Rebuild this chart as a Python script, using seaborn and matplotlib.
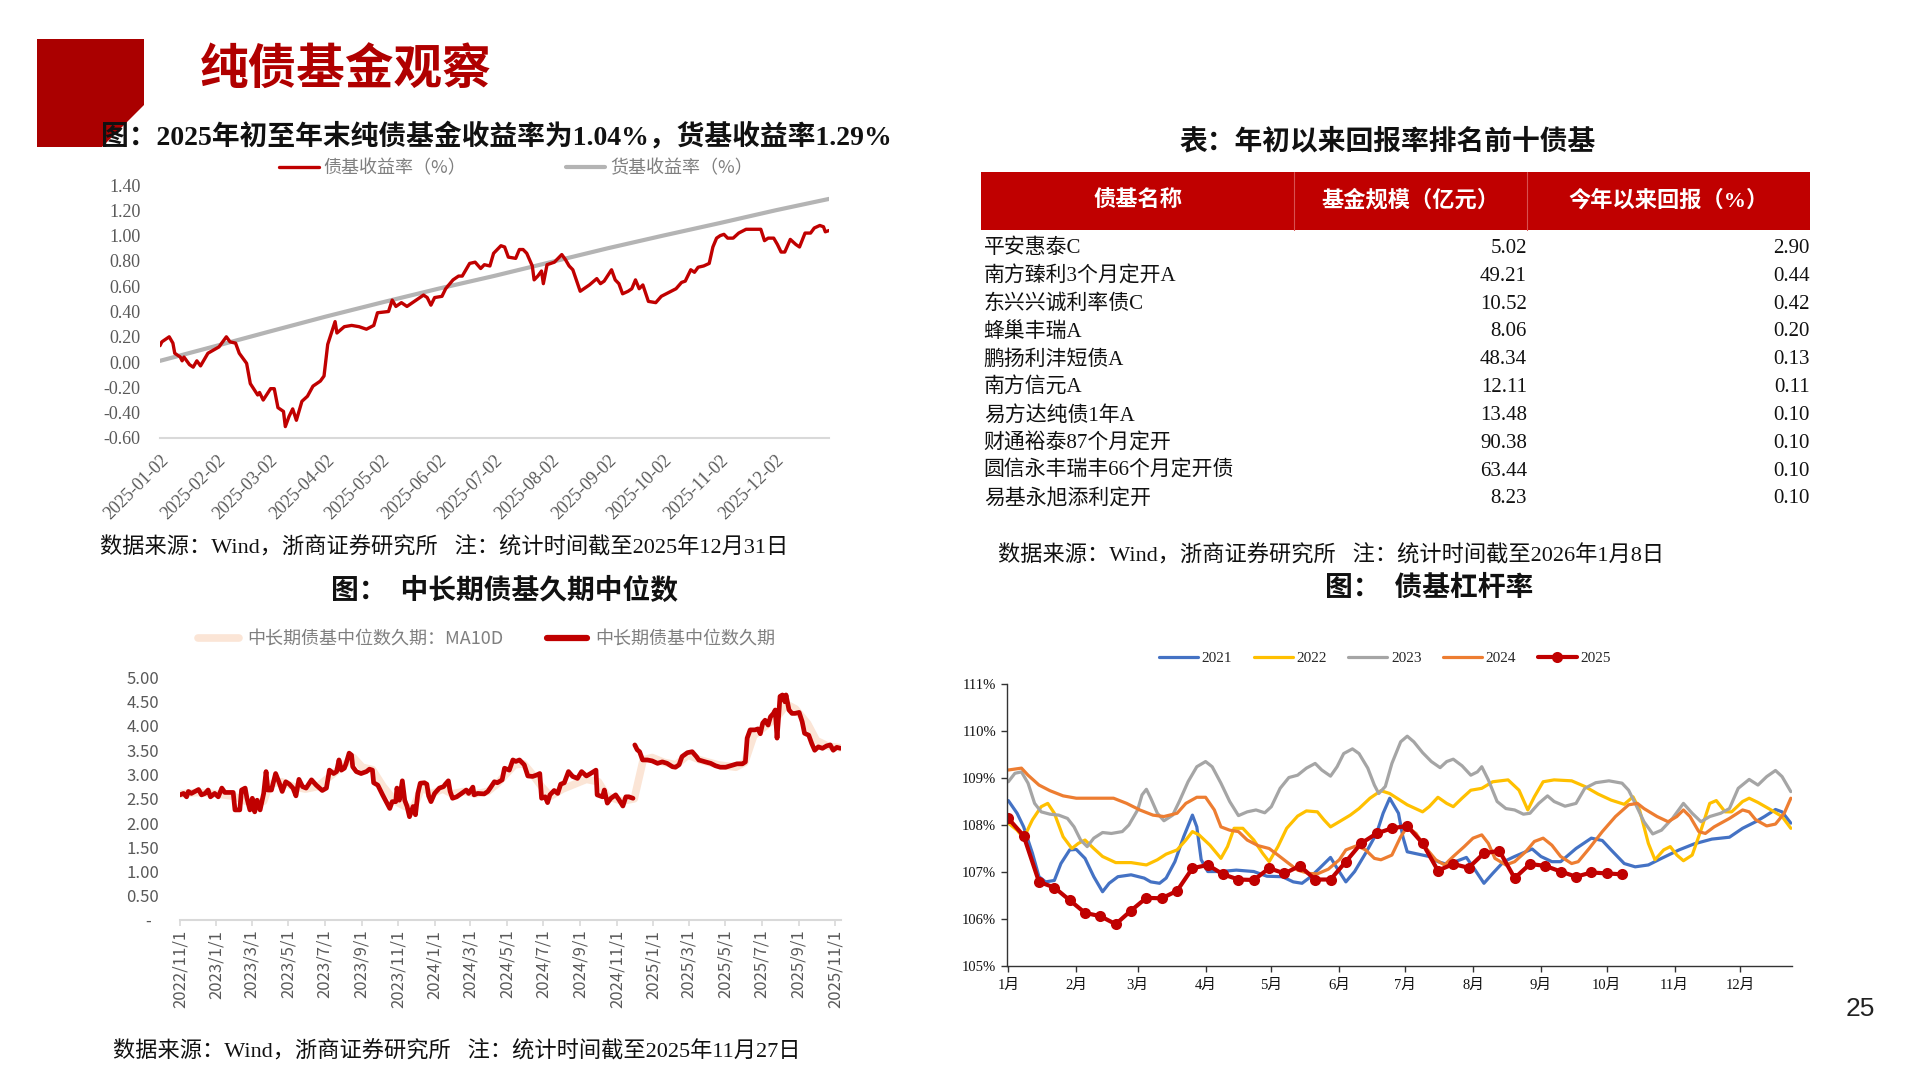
import numpy as np
import pandas as pd
import matplotlib
matplotlib.use('Agg')
import matplotlib.pyplot as plt
from matplotlib.patches import Polygon, Rectangle
from matplotlib.lines import Line2D
from matplotlib.ticker import FuncFormatter
import seaborn as sns

sns.set_theme(style='white')
SERIF = ['Liberation Serif', 'Noto Sans CJK SC']
SANS = ['Noto Sans CJK SC', 'DejaVu Sans']
plt.rcParams['font.family'] = SERIF
plt.rcParams['axes.unicode_minus'] = False

# ---------------- data: top-left (2025 YTD returns, %) ----------------
bond_doy = [2, 3, 6, 7, 9, 10, 13, 14, 15, 18, 20, 22, 24, 28, 34, 38, 40, 43, 45, 49,
            51, 55, 56, 58, 62, 64, 66, 69, 70, 72, 74, 76, 79, 82, 85, 89, 91, 93, 95, 97,
            98, 102, 106, 110, 114, 118, 120, 126, 128, 130, 133, 136, 140, 143, 145, 147, 149, 151, 155, 157,
            161, 164, 166, 170, 173, 176, 178, 181, 183, 187, 189, 191, 195, 197, 199, 201, 204, 205, 207, 209,
            210, 212, 216, 220, 222, 224, 226, 230, 232, 235, 239, 241, 243, 247, 249, 251, 253, 256, 258, 260,
            262, 264, 267, 271, 274, 278, 282, 285, 287, 290, 292, 294, 297, 300, 302, 304, 306, 308, 310, 313,
            316, 320, 323, 325, 328, 330, 332, 335, 337, 339, 341, 344, 347, 349, 352, 355, 357, 360, 362, 363, 365]
bond_ret = [0.13, 0.16, 0.19, 0.20, 0.15, 0.07, 0.04, 0.01, 0.04, -0.02, -0.04, 0.01, -0.03, 0.07, 0.12, 0.20, 0.16, 0.15, 0.07, -0.01,
            -0.17, -0.26, -0.24, -0.30, -0.21, -0.21, -0.36, -0.39, -0.51, -0.43, -0.37, -0.46, -0.31, -0.27, -0.19, -0.15, -0.11, 0.14, 0.23, 0.32,
            0.23, 0.28, 0.29, 0.28, 0.26, 0.29, 0.39, 0.40, 0.49, 0.44, 0.47, 0.44, 0.48, 0.51, 0.53, 0.51, 0.45, 0.51, 0.52, 0.58,
            0.65, 0.68, 0.68, 0.78, 0.79, 0.74, 0.77, 0.76, 0.86, 0.92, 0.91, 0.83, 0.82, 0.89, 0.89, 0.86, 0.76, 0.65, 0.68, 0.72,
            0.62, 0.77, 0.79, 0.85, 0.81, 0.76, 0.73, 0.56, 0.58, 0.61, 0.66, 0.62, 0.64, 0.73, 0.65, 0.62, 0.54, 0.56, 0.58, 0.65,
            0.58, 0.61, 0.48, 0.47, 0.52, 0.55, 0.58, 0.63, 0.64, 0.73, 0.71, 0.75, 0.76, 0.78, 0.91, 0.98, 1.00, 1.01, 0.98, 0.98,
            1.02, 1.05, 1.05, 1.05, 1.05, 0.96, 0.98, 0.98, 0.93, 0.87, 0.87, 0.97, 0.93, 0.91, 1.02, 1.02, 1.06, 1.08, 1.07, 1.03, 1.04]
money_doy = [2, 33, 61, 92, 122, 153, 183, 214, 245, 275, 306, 336, 365]
money_ret = [0.01, 0.13, 0.24, 0.36, 0.47, 0.58, 0.68, 0.79, 0.90, 1.00, 1.10, 1.20, 1.29]
tl_tick_dates = ['2025-01-02', '2025-02-02', '2025-03-02', '2025-04-02', '2025-05-02', '2025-06-02',
                 '2025-07-02', '2025-08-02', '2025-09-02', '2025-10-02', '2025-11-02', '2025-12-02']

# ---------------- data: table ----------------
fund_names = ['平安惠泰C', '南方臻利3个月定开A', '东兴兴诚利率债C', '蜂巢丰瑞A', '鹏扬利沣短债A',
              '南方信元A', '易方达纯债1年A', '财通裕泰87个月定开', '圆信永丰瑞丰66个月定开债', '易基永旭添利定开']
fund_size = [5.02, 49.21, 10.52, 8.06, 48.34, 12.11, 13.48, 90.38, 63.44, 8.23]
fund_ret = [2.90, 0.44, 0.42, 0.20, 0.13, 0.11, 0.10, 0.10, 0.10, 0.10]
table_header = ['债基名称', '基金规模（亿元）', '今年以来回报（%）']

# ---------------- data: bottom-left (duration median, days since 2022-11-01) ----------------
dur_day = [0, 6, 11, 14, 19, 25, 31, 36, 42, 47, 51, 58, 64, 70, 75, 81, 89, 92, 100, 103,
           109, 112, 117, 121, 125, 129, 134, 140, 144, 147, 153, 160, 166, 171, 177, 183, 189, 194, 199, 205,
           211, 220, 228, 238, 245, 250, 257, 262, 266, 270, 275, 278, 283, 287, 289, 295, 303, 312, 317, 322,
           324, 331, 339, 351, 355, 361, 363, 367, 372, 376, 380, 384, 390, 394, 398, 402, 409, 413, 416, 420,
           426, 434, 441, 444, 449, 452, 456, 463, 470, 479, 483, 490, 492, 498, 509, 515, 519, 526, 531, 539,
           543, 551, 557, 562, 568, 576, 582, 590, 597, 602, 605, 611, 615, 619, 626, 632, 637, 643, 650, 657,
           665, 672, 680, 687, 696, 698, 707, 710, 715, 721, 729, 735, 741, 746, 751, 758,
           761, 765, 769, 774, 782, 790, 799, 807, 815, 824, 829, 835, 840, 849, 857, 864, 868, 879, 888, 896,
           904, 913, 921, 932, 941, 946, 949, 954, 962, 967, 971, 975, 979, 984, 988, 993, 996, 999, 1002, 1004,
           1008, 1012, 1014, 1019, 1024, 1029, 1036, 1041, 1045, 1052, 1057, 1062, 1068, 1075, 1082, 1088, 1093, 1099, 1105]
dur_val = [2.58, 2.61, 2.54, 2.65, 2.61, 2.65, 2.69, 2.58, 2.61, 2.68, 2.54, 2.61, 2.54, 2.72, 2.63, 2.63, 2.63, 2.27, 2.27, 2.68,
           2.72, 2.51, 2.27, 2.51, 2.23, 2.47, 2.27, 2.61, 3.06, 2.68, 2.68, 3.02, 2.83, 2.65, 2.85, 2.80, 2.72, 2.56, 2.90, 2.75,
           2.72, 2.89, 2.78, 2.67, 2.72, 3.09, 3.02, 3.06, 3.30, 3.09, 3.13, 3.23, 3.44, 3.40, 3.16, 3.06, 3.02, 3.06, 3.11, 3.09,
           2.83, 2.78, 2.58, 2.30, 2.44, 2.44, 2.72, 2.47, 2.87, 2.47, 2.34, 2.13, 2.34, 2.17, 2.61, 2.82, 2.83, 2.80, 2.56, 2.44,
           2.61, 2.72, 2.75, 2.80, 2.87, 2.65, 2.51, 2.54, 2.60, 2.68, 2.61, 2.74, 2.58, 2.61, 2.60, 2.65, 2.72, 2.85, 2.83, 2.89,
           3.13, 3.09, 3.30, 3.27, 3.30, 3.20, 2.97, 2.96, 2.99, 3.02, 2.51, 2.54, 2.42, 2.58, 2.67, 2.61, 2.80, 2.83, 3.06, 2.96,
           2.92, 3.06, 2.97, 3.02, 3.09, 2.58, 2.54, 2.68, 2.41, 2.51, 2.58, 2.47, 2.35, 2.54, 2.54, 2.51,
           3.61, 3.51, 3.47, 3.30, 3.30, 3.28, 3.23, 3.26, 3.23, 3.16, 3.15, 3.20, 3.37, 3.45, 3.47, 3.37, 3.30, 3.26, 3.23, 3.18,
           3.15, 3.15, 3.18, 3.22, 3.22, 3.26, 3.75, 3.92, 3.92, 3.94, 3.84, 4.06, 4.12, 4.02, 4.19, 4.26, 4.33, 3.75, 4.26, 4.61,
           4.64, 4.50, 4.64, 4.33, 4.26, 4.26, 4.28, 4.09, 3.85, 3.81, 3.64, 3.50, 3.57, 3.54, 3.59, 3.61, 3.50, 3.56, 3.54]
dur_gap_after = 758   # no data between this day and the next point
ma_day = [0, 30, 60, 90, 110, 125, 140, 150, 170, 190, 210, 230, 250, 270, 290, 305, 322, 340, 360, 375,
          390, 405, 420, 440, 455, 475, 495, 515, 530, 545, 560, 575, 590, 605, 620, 640, 660, 680, 700, 715,
          740, 760, 775, 790, 810, 830, 850, 870, 900, 930, 945, 960, 980, 1000, 1015, 1030, 1050, 1065, 1085, 1105]
ma_val = [2.60, 2.63, 2.60, 2.55, 2.45, 2.40, 2.45, 2.80, 2.85, 2.75, 2.70, 2.75, 2.95, 3.15, 3.35, 3.15, 3.10, 2.75, 2.45, 2.35,
          2.30, 2.75, 2.60, 2.70, 2.60, 2.65, 2.60, 2.65, 2.80, 3.00, 3.20, 3.22, 3.00, 2.75, 2.55, 2.70, 2.80, 2.90, 2.85, 2.55,
          2.45, 2.50, 3.30, 3.35, 3.25, 3.20, 3.40, 3.30, 3.20, 3.15, 3.25, 3.80, 4.00, 4.20, 4.45, 4.35, 4.05, 3.70, 3.58, 3.55]

# ---------------- data: bottom-right (leverage %, by day of year) ----------------
lev_2021_doy = [1, 5, 8, 12, 15, 18, 22, 25, 29, 32, 36, 40, 44, 47, 51, 57, 63, 66, 70, 73,
                77, 81, 85, 87, 89, 92, 98, 105, 113, 119, 126, 131, 135, 139, 143, 148, 151, 155, 159, 164,
                169, 172, 175, 179, 181, 183, 188, 193, 197, 202, 206, 210, 214, 218, 222, 227, 232, 240, 244, 249,
                253, 260, 267, 272, 276, 282, 287, 293, 299, 307, 314, 322, 330, 336, 342, 346, 351, 354, 358]
lev_2021 = [108.52, 108.25, 107.96, 107.40, 106.90, 106.79, 106.82, 107.18, 107.47, 107.48, 107.29, 106.90, 106.58, 106.76, 106.90, 106.94, 106.87, 106.79, 106.76, 106.87,
            107.22, 107.75, 108.21, 107.96, 107.26, 107.01, 107.01, 107.04, 107.01, 106.91, 106.90, 106.79, 106.76, 106.90, 107.08, 107.31, 107.08, 106.79, 107.01, 107.40,
            107.82, 108.25, 108.57, 108.25, 107.75, 107.43, 107.38, 107.33, 107.22, 107.15, 107.24, 107.31, 107.04, 106.76, 106.97, 107.22, 107.33, 107.49, 107.33, 107.22,
            107.22, 107.50, 107.72, 107.67, 107.47, 107.18, 107.11, 107.15, 107.29, 107.47, 107.60, 107.70, 107.74, 107.93, 108.07, 108.18, 108.33, 108.28, 108.04]
lev_2022_doy = [1, 5, 8, 12, 16, 19, 22, 26, 30, 33, 36, 40, 44, 50, 57, 64, 69, 73, 78, 82,
                85, 88, 93, 98, 101, 104, 108, 113, 117, 120, 124, 128, 133, 137, 142, 145, 148, 152, 157, 161,
                166, 171, 175, 183, 190, 193, 197, 201, 204, 208, 212, 217, 222, 229, 234, 238, 241, 245, 250, 258,
                264, 270, 276, 282, 286, 289, 293, 296, 300, 303, 306, 309, 313, 317, 321, 324, 328, 331, 336, 339,
                343, 349, 354, 358]
lev_2022 = [108.04, 107.89, 107.72, 108.11, 108.39, 108.46, 108.25, 107.75, 107.50, 107.61, 107.68, 107.50, 107.33, 107.20, 107.20, 107.15, 107.26, 107.38, 107.47, 107.68,
            107.86, 107.79, 107.57, 107.29, 107.54, 107.93, 107.93, 107.68, 107.40, 107.22, 107.54, 107.93, 108.19, 108.30, 108.28, 108.11, 107.96, 108.07, 108.21, 108.35,
            108.57, 108.73, 108.67, 108.43, 108.28, 108.39, 108.59, 108.46, 108.39, 108.57, 108.74, 108.78, 108.92, 108.96, 108.74, 108.32, 108.60, 108.92, 108.96, 108.94,
            108.82, 108.66, 108.53, 108.44, 108.60, 108.32, 107.61, 107.26, 107.47, 107.54, 107.36, 107.24, 107.36, 107.89, 108.46, 108.52, 108.28, 108.28, 108.50, 108.57,
            108.48, 108.32, 108.18, 107.93]
lev_2023_doy = [1, 4, 7, 10, 13, 16, 20, 24, 28, 31, 34, 37, 40, 44, 48, 53, 56, 60, 62, 64,
                66, 69, 72, 76, 79, 83, 87, 91, 94, 98, 102, 106, 110, 114, 118, 121, 125, 129, 133, 137,
                141, 144, 148, 151, 154, 158, 161, 165, 168, 170, 173, 176, 180, 183, 186, 190, 194, 198, 201, 204,
                208, 212, 215, 217, 220, 224, 228, 232, 236, 239, 243, 247, 250, 255, 260, 264, 269, 275, 281, 284,
                287, 291, 295, 299, 304, 309, 313, 317, 321, 326, 330, 334, 339, 343, 347, 351, 354, 358]
lev_2023 = [108.92, 109.10, 109.13, 108.89, 108.46, 108.28, 108.23, 108.21, 108.14, 107.96, 107.68, 107.54, 107.72, 107.84, 107.82, 107.86, 108.00, 108.32, 108.64, 108.76,
            108.57, 108.25, 108.09, 108.21, 108.50, 108.92, 109.24, 109.35, 109.24, 108.89, 108.50, 108.20, 108.28, 108.32, 108.26, 108.39, 108.78, 109.01, 109.06, 109.21,
            109.31, 109.17, 109.04, 109.24, 109.52, 109.62, 109.52, 109.21, 108.85, 108.67, 108.82, 109.31, 109.77, 109.89, 109.77, 109.54, 109.35, 109.22, 109.35, 109.40,
            109.26, 109.06, 109.13, 109.24, 108.96, 108.50, 108.35, 108.32, 108.23, 108.25, 108.46, 108.62, 108.50, 108.40, 108.46, 108.78, 108.90, 108.94, 108.89, 108.74,
            108.46, 108.07, 107.81, 107.89, 108.14, 108.46, 108.25, 108.07, 108.18, 108.25, 108.35, 108.78, 108.97, 108.85, 109.03, 109.16, 109.03, 108.71]
lev_2024_doy = [1, 4, 7, 10, 15, 20, 26, 32, 40, 49, 55, 61, 67, 72, 78, 82, 87, 91, 95, 98,
                102, 106, 110, 115, 120, 124, 129, 133, 138, 142, 147, 152, 155, 160, 164, 168, 171, 176, 180, 183,
                187, 191, 196, 200, 204, 209, 213, 217, 220, 223, 228, 232, 237, 241, 245, 249, 253, 258, 261, 266,
                272, 278, 284, 288, 291, 297, 302, 306, 309, 312, 316, 319, 323, 330, 336, 339, 342, 347, 351, 355, 358]
lev_2024 = [109.17, 109.19, 109.21, 109.06, 108.85, 108.73, 108.62, 108.57, 108.57, 108.57, 108.46, 108.32, 108.21, 108.18, 108.25, 108.46, 108.59, 108.59, 108.32, 107.96,
            107.89, 107.86, 107.68, 107.56, 107.50, 107.36, 107.18, 107.04, 106.97, 106.96, 107.06, 107.26, 107.47, 107.56, 107.47, 107.29, 107.26, 107.36, 107.75, 107.96,
            107.82, 107.54, 107.26, 107.15, 107.33, 107.54, 107.72, 107.79, 107.61, 107.29, 107.15, 107.22, 107.43, 107.65, 107.72, 107.57, 107.33, 107.18, 107.22, 107.50,
            107.86, 108.18, 108.43, 108.46, 108.35, 108.18, 108.07, 108.18, 108.32, 108.18, 107.86, 107.82, 107.96, 108.14, 108.32, 108.28, 108.11, 107.98, 108.02, 108.25, 108.57]
lev_2025_doy = [1, 8, 15, 22, 29, 36, 43, 50, 57, 64, 71, 78, 85, 92, 99, 106, 113, 120, 127, 134,
                141, 148, 155, 162, 169, 176, 183, 190, 197, 204, 211, 218, 225, 232, 239, 246, 253, 260, 267, 274, 281]
lev_2025 = [108.14, 107.77, 106.79, 106.67, 106.40, 106.13, 106.06, 105.89, 106.18, 106.45, 106.44, 106.60, 107.08, 107.15, 106.95, 106.84, 106.83, 107.08, 106.97, 107.13,
            106.84, 106.84, 107.22, 107.61, 107.82, 107.93, 107.98, 107.61, 107.03, 107.17, 107.09, 107.40, 107.45, 106.87, 107.17, 107.13, 107.01, 106.90, 106.99, 106.97, 106.95]
month_doy = [1, 32, 60, 91, 121, 152, 182, 213, 244, 274, 305, 335]
month_labels = ['1月', '2月', '3月', '4月', '5月', '6月', '7月', '8月', '9月', '10月', '11月', '12月']
lev_colors = {'2021': '#4472C4', '2022': '#FFC000', '2023': '#A5A5A5', '2024': '#ED7D31', '2025': '#C00000'}

# ---------------- layout helpers ----------------
W, H = 1920, 1080
fig = plt.figure(figsize=(19.2, 10.8), dpi=100, facecolor='white')


def fx(px):
    return px / W


def fy(py):
    return 1 - py / H


def box(x0, y0, x1, y1):
    return [fx(x0), fy(y1), (x1 - x0) / W, (y1 - y0) / H]


GRAY_TXT = '#595959'

# ---------------- header ----------------
fig.patches.append(Polygon([[fx(37), fy(39)], [fx(144), fy(39)], [fx(144), fy(105)], [fx(102), fy(147)], [fx(37), fy(147)]],
                           closed=True, transform=fig.transFigure, facecolor='#AA0000', edgecolor='none', zorder=0))
fig.text(fx(200), fy(70), '纯债基金观察', fontsize=35, fontweight='bold', color='#B00000', family=SANS, va='center', ha='left')
fig.text(fx(101), fy(137), '图：2025年初至年末纯债基金收益率为1.04%，货基收益率1.29%', fontsize=20, fontweight='bold',
         family=SERIF, va='center', ha='left', color='#111111', zorder=3)
fig.text(fx(1860), fy(1009), '25', fontsize=19, family=['Liberation Sans'], ha='center', va='center', color='#222222')

# ---------------- top-left chart ----------------
ax1 = fig.add_axes(box(160, 185, 829, 438))
d0 = pd.Timestamp('2025-01-01')
bond_dates = d0 + pd.to_timedelta(np.array(bond_doy) - 1, unit='D')
money_dates = d0 + pd.to_timedelta(np.array(money_doy) - 1, unit='D')
sns.lineplot(x=money_dates, y=money_ret, ax=ax1, color='#B4B4B4', lw=3.0, label='货基收益率（%）')
sns.lineplot(x=bond_dates, y=bond_ret, ax=ax1, color='#C00000', lw=2.4, label='债基收益率（%）')
ax1.set_ylim(-0.6, 1.4)
ax1.set_xlim(pd.Timestamp('2025-01-02'), pd.Timestamp('2025-12-31'))
ax1.set_yticks(np.round(np.arange(-0.6, 1.41, 0.2), 2))
ax1.yaxis.set_major_formatter(FuncFormatter(lambda v, p: f'{v:.2f}'))
ax1.set_xticks(pd.to_datetime(tl_tick_dates))
ax1.set_xticklabels(tl_tick_dates, rotation=45, ha='right', rotation_mode='anchor')
for s in ['top', 'right', 'left']:
    ax1.spines[s].set_visible(False)
ax1.spines['bottom'].set_color('#D9D9D9')
ax1.spines['bottom'].set_linewidth(1.5)
ax1.tick_params(axis='y', length=0, pad=14, labelsize=13, labelcolor=GRAY_TXT)
ax1.tick_params(axis='x', length=0, pad=10, labelsize=13, labelcolor=GRAY_TXT)
ax1.set_xlabel('')
ax1.set_ylabel('')
ax1.grid(False)
h, l = ax1.get_legend_handles_labels()
ax1.legend([h[1], h[0]], [l[1], l[0]], loc='center', bbox_to_anchor=(0.532, 1.065), ncol=2, frameon=False,
           prop=dict(family=SANS, size=13), labelcolor='#7F7F7F', handlelength=2.2, handletextpad=0.25,
           columnspacing=5.5)
fig.text(fx(100), fy(548), '数据来源：Wind，浙商证券研究所   注：统计时间截至2025年12月31日', fontsize=16,
         family=SERIF, va='center', ha='left', color='#111111')

# ---------------- table ----------------
fig.text(fx(1388), fy(142), '表：年初以来回报率排名前十债基', fontsize=20, fontweight='bold', family=SERIF,
         ha='center', va='center', color='#111111')
TL, TR = 981, 1810
axt = fig.add_axes(box(TL, 172, TR, 510))
axt.set_xlim(0, TR - TL)
axt.set_ylim(9.4, -2.75)
axt.axis('off')
axt.add_patch(Rectangle((0, -2.75), TR - TL, 2.083, facecolor='#C00000', edgecolor='none'))
col_div = [1294.3 - TL, 1527 - TL]
for xd in col_div:
    axt.plot([xd, xd], [-2.75, -0.667], color='#D85050', lw=0.8)
col_centers = [col_div[0] / 2, (col_div[0] + col_div[1]) / 2, (col_div[1] + TR - TL) / 2]
for xc, txt in zip(col_centers, table_header):
    axt.text(xc, -1.72, txt, ha='center', va='center', color='white', fontsize=16, fontweight='bold', family=SERIF)
for i, (nm, sz, rt) in enumerate(zip(fund_names, fund_size, fund_ret)):
    axt.text(2.7, i, nm, ha='left', va='center', fontsize=15, family=SERIF, color='#111111')
    axt.text(col_div[1], i, f'{sz:.2f}', ha='right', va='center', fontsize=15, family=SERIF, color='#111111')
    axt.text(TR - TL - 0.5, i, f'{rt:.2f}', ha='right', va='center', fontsize=15, family=SERIF, color='#111111')
fig.text(fx(998), fy(556), '数据来源：Wind，浙商证券研究所   注：统计时间截至2026年1月8日', fontsize=16,
         family=SERIF, va='center', ha='left', color='#111111')

# ---------------- bottom-left chart ----------------
fig.text(fx(505), fy(591), '图：  中长期债基久期中位数', fontsize=20, fontweight='bold', family=SERIF,
         ha='center', va='center', color='#111111')
ax2 = fig.add_axes(box(180, 677.5, 841, 920))
base = pd.Timestamp('2022-11-01')
dur_df = pd.DataFrame({'date': base + pd.to_timedelta(dur_day, unit='D'), 'value': dur_val,
                       'seg': [0 if d <= dur_gap_after else 1 for d in dur_day]})
ma_df = pd.DataFrame({'date': base + pd.to_timedelta(ma_day, unit='D'), 'value': ma_val})
sns.lineplot(data=ma_df, x='date', y='value', ax=ax2, color='#FBE5D6', lw=5.5)
sns.lineplot(data=dur_df, x='date', y='value', units='seg', estimator=None, ax=ax2, color='#C00000', lw=3.4)
ax2.set_ylim(0, 5)
ax2.set_xlim(base, base + pd.Timedelta(days=1106))
ax2.set_yticks(np.round(np.arange(0, 5.01, 0.5), 2))
ax2.yaxis.set_major_formatter(FuncFormatter(lambda v, p: '-  ' if abs(v) < 1e-9 else f'{v:.2f}'))
bl_ticks = pd.date_range('2022-11-01', '2025-11-01', freq='2MS')
ax2.set_xticks(bl_ticks)
ax2.set_xticklabels([f'{d.year}/{d.month}/{d.day}' for d in bl_ticks], rotation=90, family=SANS)
for lab in ax2.get_yticklabels():
    lab.set_family(SANS)
for s in ['top', 'right', 'left']:
    ax2.spines[s].set_visible(False)
ax2.spines['bottom'].set_color('#D9D9D9')
ax2.spines['bottom'].set_linewidth(1.5)
ax2.tick_params(axis='y', length=0, pad=15, labelsize=12, labelcolor=GRAY_TXT)
ax2.tick_params(axis='x', direction='out', length=4, width=1.2, color='#D9D9D9', pad=3, labelsize=12,
                labelcolor=GRAY_TXT, bottom=True)
ax2.set_xlabel('')
ax2.set_ylabel('')
ax2.grid(False)
ax2.legend([Line2D([], [], color='#FBE5D6', lw=5.5), Line2D([], [], color='#C00000', lw=4.5)],
           ['中长期债基中位数久期：MA10D', '中长期债基中位数久期'], loc='center', bbox_to_anchor=(0.4645, 1.157),
           ncol=2, frameon=False, prop=dict(family=SANS, size=13), labelcolor='#7F7F7F', handlelength=2.25,
           handletextpad=0.45, columnspacing=2.4)
fig.text(fx(113), fy(1052), '数据来源：Wind，浙商证券研究所   注：统计时间截至2025年11月27日', fontsize=16,
         family=SERIF, va='center', ha='left', color='#111111')

# ---------------- bottom-right chart ----------------
fig.text(fx(1429), fy(589), '图：  债基杠杆率', fontsize=20, fontweight='bold', family=SERIF,
         ha='center', va='center', color='#111111')
ax3 = fig.add_axes(box(1007.3, 684, 1791.7, 966))
series = [('2021', lev_2021_doy, lev_2021), ('2022', lev_2022_doy, lev_2022),
          ('2023', lev_2023_doy, lev_2023), ('2024', lev_2024_doy, lev_2024)]
for name, xd, yd in series:
    sns.lineplot(x=xd, y=yd, ax=ax3, color=lev_colors[name], lw=2.3, label=name)
sns.lineplot(x=lev_2025_doy, y=lev_2025, ax=ax3, color=lev_colors['2025'], lw=3.0, marker='o', markersize=8,
             markeredgewidth=0, label='2025')
ax3.set_ylim(105, 111)
ax3.set_xlim(0.54, 358.4)
ax3.set_yticks(range(105, 112))
ax3.yaxis.set_major_formatter(FuncFormatter(lambda v, p: f'{int(round(v))}%'))
ax3.set_xticks(month_doy)
ax3.set_xticklabels(month_labels)
for s in ['top', 'right']:
    ax3.spines[s].set_visible(False)
for s in ['left', 'bottom']:
    ax3.spines[s].set_color('#333333')
    ax3.spines[s].set_linewidth(1.0)
ax3.tick_params(axis='both', direction='out', length=4, width=1.0, color='#333333', labelsize=10.5,
                labelcolor='#111111', left=True, bottom=True)
ax3.tick_params(axis='y', pad=4)
ax3.tick_params(axis='x', pad=5)
ax3.set_xlabel('')
ax3.set_ylabel('')
ax3.grid(False)
h3, l3 = ax3.get_legend_handles_labels()
ax3.legend(h3, l3, loc='center', bbox_to_anchor=(0.4815, 1.092), ncol=5, frameon=False,
           prop=dict(family=SERIF, size=11), handlelength=2.55, handletextpad=0.25, columnspacing=1.4)

fig.savefig('out.png', dpi=100, facecolor='white')
